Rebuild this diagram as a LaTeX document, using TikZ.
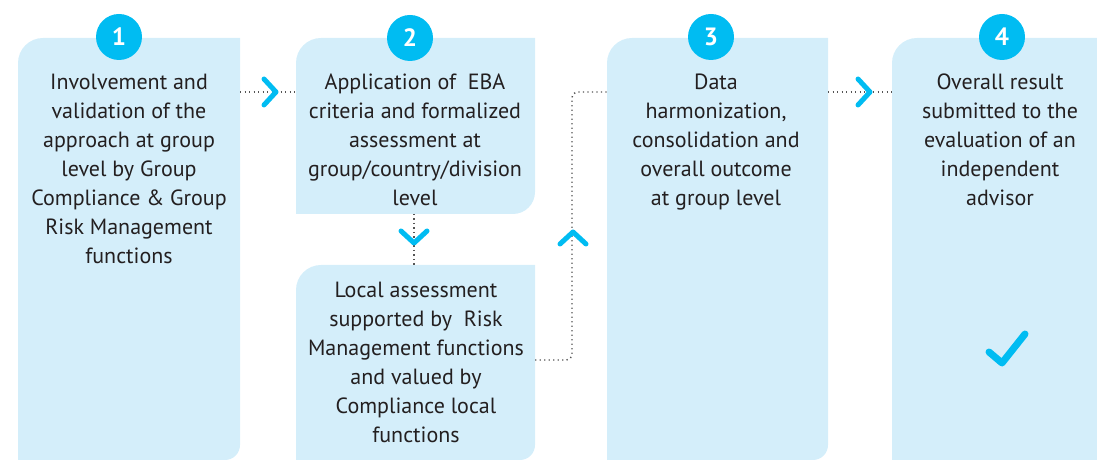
\documentclass[tikz,border=0pt]{standalone}
\usepackage{fontspec}
\setmainfont{PT Sans}
\definecolor{boxfill}{HTML}{D4EEFA}
\definecolor{cyanc}{HTML}{00BCF2}
\definecolor{txt}{HTML}{231F20}
\definecolor{dotc}{HTML}{555555}
\begin{document}
\begin{tikzpicture}[x=1pt,y=1pt,
  box/.style={fill=boxfill},
  num/.style={circle, fill=cyanc, minimum size=46pt, inner sep=0pt, text=white, font=\fontsize{25}{25}\selectfont\bfseries},
  body/.style={align=center, text=txt, font=\fontsize{22}{29}\selectfont, inner sep=0pt, anchor=base},
  conn/.style={draw=dotc, line width=1.4pt, dash pattern=on 1.3pt off 3.2pt},
  chev/.style={draw=cyanc, line width=5pt, line cap=round, line join=round},
  tick/.style={draw=cyanc, line width=7pt, line cap=round, line join=round}]
\useasboundingbox (0,0) rectangle (1097,460);
% boxes
\fill[box] (18,0) -- (18,397) arc[start angle=180,end angle=90,radius=25] -- (240,422) -- (240,15) arc[start angle=0,end angle=-90,radius=15] -- cycle;
\fill[box] (296,246) -- (296,397) arc[start angle=180,end angle=90,radius=25] -- (535,422) -- (535,268) arc[start angle=0,end angle=-90,radius=22] -- cycle;
\fill[box] (296,0) -- (296,170) arc[start angle=180,end angle=90,radius=25] -- (535,195) -- (535,15) arc[start angle=0,end angle=-90,radius=15] -- cycle;
\fill[box] (607,0) -- (607,397) arc[start angle=180,end angle=90,radius=25] -- (828,422) -- (828,15) arc[start angle=0,end angle=-90,radius=15] -- cycle;
\fill[box] (892,0) -- (892,397) arc[start angle=180,end angle=90,radius=25] -- (1097,422) -- (1097,0) -- cycle;
% connector anchors
\coordinate (b1r) at (240,368);
\coordinate (b2l) at (296,368);
\coordinate (b2b) at (414,246);
\coordinate (b2bt) at (414,195);
\coordinate (b2br) at (535,100);
\coordinate (b3l) at (607,368);
\coordinate (b3r) at (828,368);
\coordinate (b4l) at (892,368);
% connectors
\draw[conn] (b1r) -- (b2l);
\draw[conn] (b2b) -- (b2bt);
\draw[conn, rounded corners=6pt] (b2br) -| (572,368) -- (b3l);
\draw[conn] (b3r) -- (b4l);
% chevrons
\draw[chev] (264,381) -- (276,368) -- (264,355);
\draw[chev] (858,381) -- (870,368) -- (858,355);
\draw[chev] (401,229) -- (414,217) -- (427,229);
\draw[chev] (560,216) -- (573,228) -- (586,216);
% tick
\draw[tick] (989,108) -- (1002,97) -- (1025,126);
% numbers
\node[num] (n1) at (119,423) {1};
\node[num] (n2) at (410,422) {2};
\node[num] (n3) at (711,423) {3};
\node[num] (n4) at (1002,423) {4};
% texts (base anchor = baseline of last line)
\node[body] (t1) at (129,196) {Involvement and\\validation of the\\approach at group\\level by Group\\Compliance \& Group\\Risk Management\\functions};
\node[body] (t2) at (415,254) {Application of~ EBA\\criteria and formalized\\assessment at\\group/country/division\\level};
\node[body] (t2b) at (416,17) {Local assessment\\supported by~ Risk\\Management functions\\and valued by\\Compliance local\\functions};
\node[body] (t3) at (716,254) {Data\\harmonization,\\consolidation and\\overall outcome\\at group level};
\node[body] (t4) at (1000,254) {Overall result\\submitted to the\\evaluation of an\\independent\\advisor};
\end{tikzpicture}
\end{document}
